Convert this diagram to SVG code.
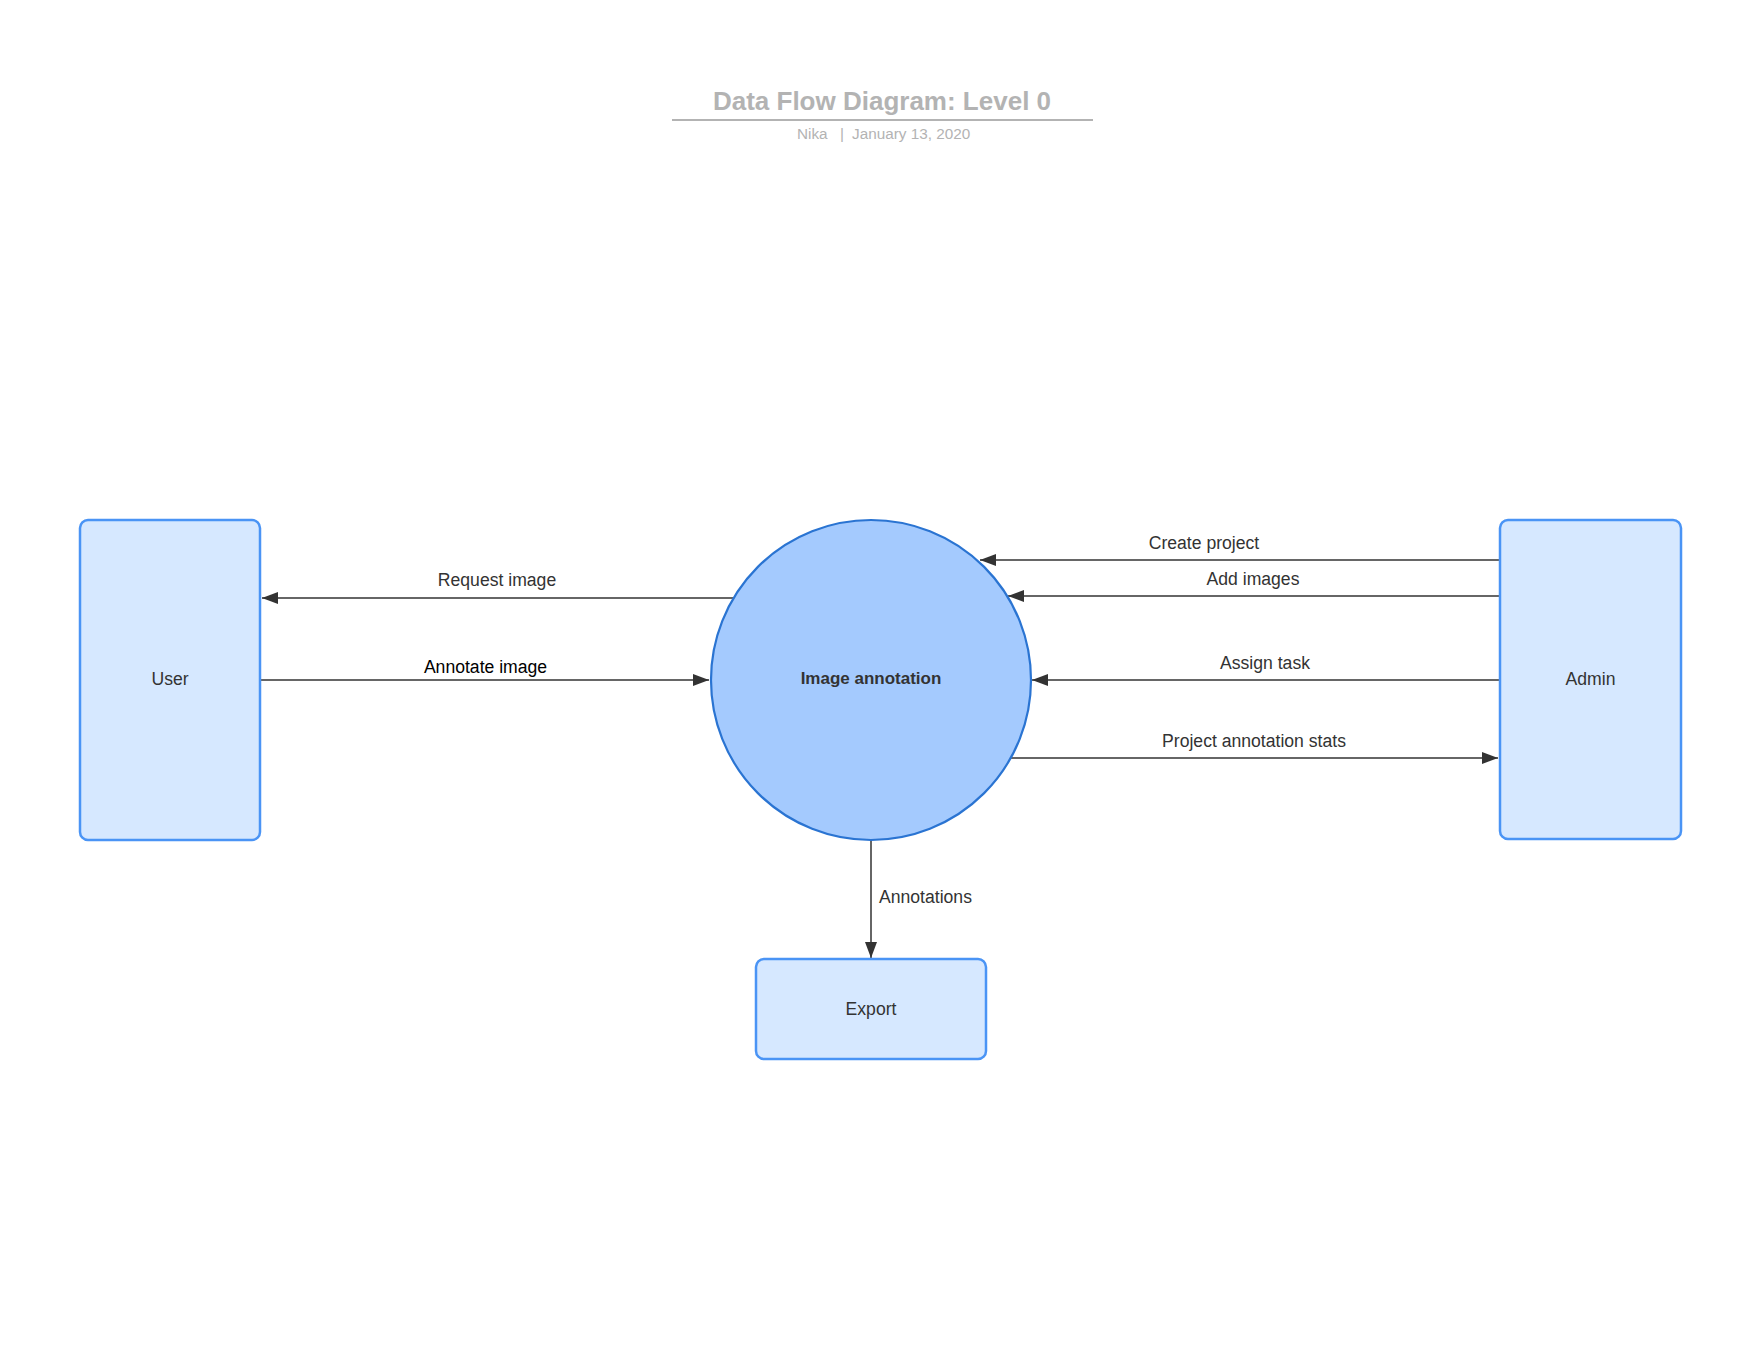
<svg xmlns="http://www.w3.org/2000/svg" width="1760" height="1360" viewBox="0 0 1760 1360">
<style>
  .lbl{font-family:"Liberation Sans",Arial,sans-serif;font-size:17.6px;fill:#333333;text-anchor:middle}
  .node{fill:#d6e8ff;stroke:#4a94f5;stroke-width:2.5}
  .edge{stroke:#333333;stroke-width:1.5;fill:none}
  .ttl{font-family:"Liberation Sans",Arial,sans-serif;fill:#b3b3b3}
</style>
<defs>
  <marker id="arr" viewBox="0 0 16 12" refX="16" refY="6" markerWidth="16" markerHeight="12" markerUnits="userSpaceOnUse" orient="auto">
    <path d="M0,0 L16,6 L0,12 Z" fill="#333333"/>
  </marker>
</defs>
<rect width="1760" height="1360" fill="#ffffff"/>
<g id="title">
  <text class="ttl" x="882" y="110" font-size="26" font-weight="bold" text-anchor="middle">Data Flow Diagram: Level 0</text>
  <line x1="672" y1="120" x2="1093" y2="120" stroke="#b3b3b3" stroke-width="1.8"/>
  <text class="ttl" x="797" y="139" font-size="15.3">Nika</text>
  <text class="ttl" x="842" y="139" font-size="15.3" text-anchor="middle">|</text>
  <text class="ttl" x="852" y="139" font-size="15.3">January 13, 2020</text>
</g>
<g id="connectors">
  <line class="edge" x1="734" y1="598" x2="262" y2="598" marker-end="url(#arr)"/>
  <text class="lbl" x="497" y="586">Request image</text>
  <line class="edge" x1="260" y1="680" x2="709" y2="680" marker-end="url(#arr)"/>
  <text class="lbl" x="485.5" y="673" style="fill:#000000">Annotate image</text>
  <line class="edge" x1="1500" y1="560" x2="980" y2="560" marker-end="url(#arr)"/>
  <text class="lbl" x="1204" y="549">Create project</text>
  <line class="edge" x1="1500" y1="596" x2="1008" y2="596" marker-end="url(#arr)"/>
  <text class="lbl" x="1253" y="585">Add images</text>
  <line class="edge" x1="1500" y1="680" x2="1032" y2="680" marker-end="url(#arr)"/>
  <text class="lbl" x="1265" y="669">Assign task</text>
  <line class="edge" x1="1010" y1="758" x2="1498" y2="758" marker-end="url(#arr)"/>
  <text class="lbl" x="1254" y="747">Project annotation stats</text>
  <line class="edge" x1="871" y1="840" x2="871" y2="958" marker-end="url(#arr)"/>
  <text class="lbl" x="879" y="903" style="text-anchor:start">Annotations</text>
</g>
<g id="node-user">
  <rect class="node" x="80" y="520" width="180" height="320" rx="8"/>
  <text class="lbl" x="170" y="685">User</text>
</g>
<g id="node-process">
  <circle cx="871" cy="680" r="160" fill="#a4cafe" stroke="#2a74d2" stroke-width="2.2"/>
  <text class="lbl" x="871" y="684" font-weight="bold" style="font-size:17px">Image annotation</text>
</g>
<g id="node-admin">
  <rect class="node" x="1500" y="520" width="181" height="319" rx="8"/>
  <text class="lbl" x="1590.5" y="685">Admin</text>
</g>
<g id="node-export">
  <rect class="node" x="756" y="959" width="230" height="100" rx="8"/>
  <text class="lbl" x="871" y="1015">Export</text>
</g>
</svg>
